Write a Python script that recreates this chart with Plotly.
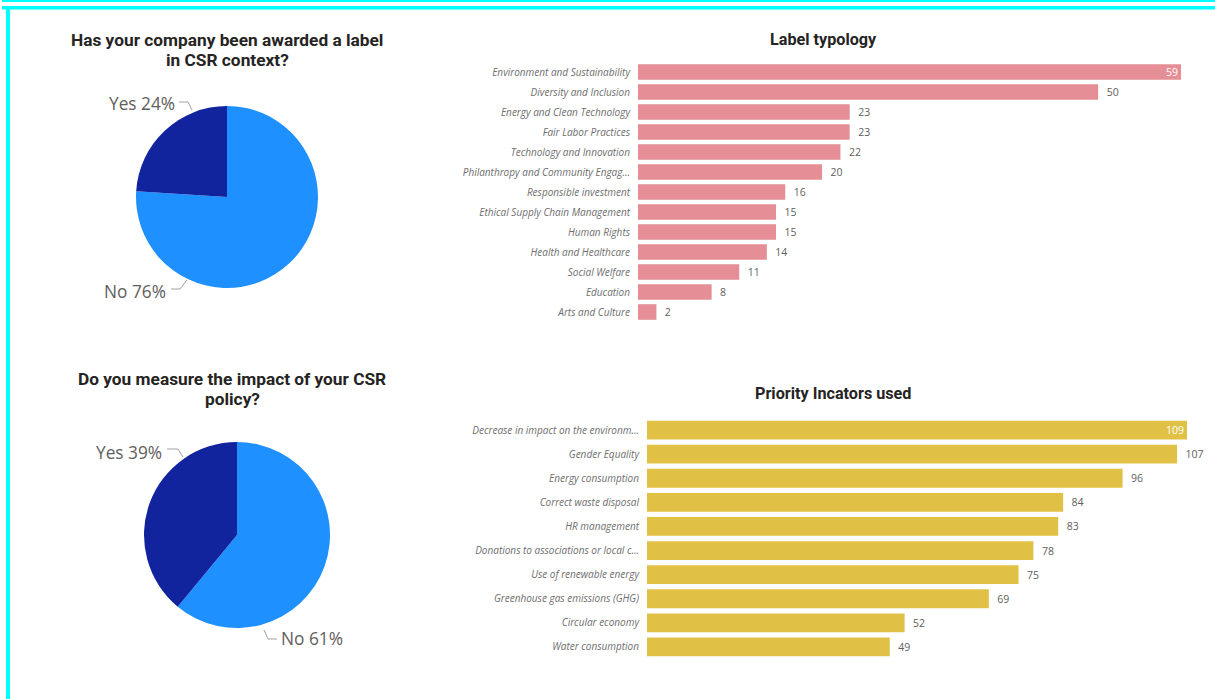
import plotly.graph_objects as go

W, H = 1215, 699

# ---------------- data ----------------
pie1_labels = ["No", "Yes"]
pie1_values = [76, 24]
pie2_labels = ["No", "Yes"]
pie2_values = [61, 39]

label_cats = ["Environment and Sustainability", "Diversity and Inclusion", "Energy and Clean Technology",
              "Fair Labor Practices", "Technology and Innovation", "Philanthropy and Community Engag...",
              "Responsible investment", "Ethical Supply Chain Management", "Human Rights",
              "Health and Healthcare", "Social Welfare", "Education", "Arts and Culture"]
label_vals = [59, 50, 23, 23, 22, 20, 16, 15, 15, 14, 11, 8, 2]

ind_cats = ["Decrease in impact on the environm...", "Gender Equality", "Energy consumption",
            "Correct waste disposal", "HR management", "Donations to associations or local c...",
            "Use of renewable energy", "Greenhouse gas emissions (GHG)", "Circular economy",
            "Water consumption"]
ind_vals = [109, 107, 96, 84, 83, 78, 75, 69, 52, 49]

# ---------------- helpers ----------------
def px(x):
    return x / W

def py(y):
    return 1 - y / H

DARK = "#12239E"
LIGHT = "#1E90FF"
PINK = "#E58E96"
YELLOW = "#E0C146"
GREY = "#605E5C"
TICK_GREY = "#6E6E6E"
TITLE_FONT = "Roboto"
BODY_FONT = "Open Sans"

fig = go.Figure()

# pies
fig.add_trace(go.Pie(labels=pie1_labels, values=pie1_values, sort=False, direction="clockwise",
                     rotation=0, textinfo="none", hoverinfo="label+percent",
                     marker=dict(colors=[LIGHT, DARK], line=dict(width=0)),
                     domain=dict(x=[px(136), px(318)], y=[py(288), py(106)]), showlegend=False))
fig.add_trace(go.Pie(labels=pie2_labels, values=pie2_values, sort=False, direction="clockwise",
                     rotation=0, textinfo="none", hoverinfo="label+percent",
                     marker=dict(colors=[LIGHT, DARK], line=dict(width=0)),
                     domain=dict(x=[px(144), px(330)], y=[py(628), py(442)]), showlegend=False))

# bars
def positions(vals):
    m = max(vals)
    return ["inside" if v == m else "outside" for v in vals]

def templates(vals):
    m = max(vals)
    return ["%{x}" if v == m else "\u00a0\u00a0%{x}" for v in vals]

def add_bar(vals, cats, color, xa, ya):
    fig.add_trace(go.Bar(x=vals, y=cats, orientation="h", marker=dict(color=color, line=dict(width=0)),
                         width=0.78, texttemplate=templates(vals), textposition=positions(vals),
                         insidetextanchor="end", cliponaxis=False, textangle=0, constraintext="none",
                         insidetextfont=dict(color="white", size=10.5, family=BODY_FONT),
                         outsidetextfont=dict(color=GREY, size=10.5, family=BODY_FONT),
                         xaxis=xa, yaxis=ya, showlegend=False))

add_bar(label_vals, label_cats, PINK, "x", "y")
add_bar(ind_vals, ind_cats, YELLOW, "x2", "y2")

tickfont = dict(family=BODY_FONT, size=10, color=TICK_GREY, style="italic")
fig.update_layout(
    width=W, height=H, margin=dict(l=0, r=0, t=0, b=0),
    paper_bgcolor="white", plot_bgcolor="white",
    xaxis=dict(domain=[px(638), px(1181)], range=[0, max(label_vals)], visible=False, fixedrange=True),
    yaxis=dict(domain=[py(322), py(62)], categoryorder="array", categoryarray=label_cats,
               range=[len(label_cats) - 0.5, -0.5], showgrid=False, zeroline=False, showline=False,
               ticks="", tickfont=tickfont, ticklabelstandoff=7, anchor="x"),
    xaxis2=dict(domain=[px(647), px(1187)], range=[0, max(ind_vals)], visible=False, fixedrange=True),
    yaxis2=dict(domain=[py(659), py(418)], categoryorder="array", categoryarray=ind_cats,
                range=[len(ind_cats) - 0.5, -0.5], showgrid=False, zeroline=False, showline=False,
                ticks="", tickfont=tickfont, ticklabelstandoff=7, anchor="x2"),
)

ann = []
def text(x, y, s, size, color, bold=False, family=BODY_FONT, xanchor="center"):
    ann.append(dict(x=px(x), y=py(y), xref="paper", yref="paper", text=s, showarrow=False,
                    xanchor=xanchor, yanchor="middle",
                    font=dict(size=size, color=color, family=family, weight="bold" if bold else "normal")))

TITLE_C = "#252423"
text(227, 40, "Has your company been awarded a label", 17.3, TITLE_C, True, TITLE_FONT)
text(227, 60, "in CSR context?", 17.3, TITLE_C, True, TITLE_FONT)
text(232, 379, "Do you measure the impact of your CSR", 17.3, TITLE_C, True, TITLE_FONT)
text(232, 399, "policy?", 17.3, TITLE_C, True, TITLE_FONT)
text(823, 39, "Label typology", 16.2, TITLE_C, True, TITLE_FONT)
text(833, 393, "Priority Incators used", 16.2, TITLE_C, True, TITLE_FONT)

# pie labels
text(177, 103, f"{pie1_labels[1]} {pie1_values[1]}%", 17.3, GREY, xanchor="right")
text(168, 291, f"{pie1_labels[0]} {pie1_values[0]}%", 17.3, GREY, xanchor="right")
text(164, 452, f"{pie2_labels[1]} {pie2_values[1]}%", 17.3, GREY, xanchor="right")
text(279, 638, f"{pie2_labels[0]} {pie2_values[0]}%", 17.3, GREY, xanchor="left")

fig.update_layout(annotations=ann)

shapes = []
def leader(points):
    d = "M " + " L ".join(f"{px(x)},{py(y)}" for x, y in points)
    shapes.append(dict(type="path", path=d, xref="paper", yref="paper",
                       line=dict(color="#A0A0A0", width=1)))

leader([(179, 102), (188, 102), (192, 110)])
leader([(171, 289), (180, 289), (187, 280)])
leader([(167, 449), (178, 449), (183, 457)])
leader([(277, 639), (268, 639), (264, 630)])

CYAN = "#00FFFF"
for x0, y0, x1, y1 in [(2, 0, W, 2), (2, 6, W, 9.5), (6, 6, 10, H)]:
    shapes.append(dict(type="rect", xref="paper", yref="paper", x0=px(x0), x1=px(x1), y0=py(y1), y1=py(y0),
                       fillcolor=CYAN, line=dict(width=0), layer="above"))
fig.update_layout(shapes=shapes)

fig.write_html("out.html")
